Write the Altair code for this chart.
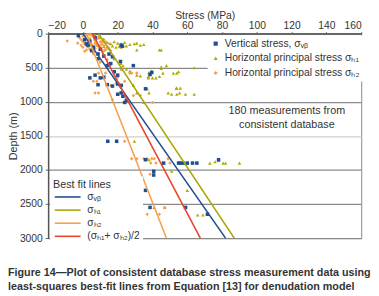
import altair as alt
import pandas as pd

# ---- data (stress MPa, depth m) ----
vb_stress = [-2.6, 4, 6, 8.7, 15, 12, 17, 21.6, 22, 22.7, 2, 5, 10, 7, 1, 3,
             8.7, 14, 15, 16, 7, 4, 10, 8.7, 14, 17, 20, 22, 20, 22, 23, 24, 29, 38.6, 39.6, 36, 12, 25, 18, 20,
             14.3, 19.4, 36, 46.4, 55, 56, 57.6, 60, 63, 65.5, 78, 40.7, 40.7, 36, 38.6, 59, 71.6]
vb_depth = [30, 110, 200, 300, 300, 330, 340, 410, 170, 185, 150, 250, 230, 60, 90, 170,
            370, 470, 455, 440, 610, 650, 650, 750, 750, 770, 740, 760, 890, 870, 920, 1010, 470, 600, 570, 810, 640, 980, 560, 610,
            1580, 1580, 1850, 1900, 1900, 1900, 1900, 1900, 1900, 1900, 1850, 2020, 2075, 2300, 2550, 2550, 2650]

h1_stress = [7, 9, 11, 12, 14, 16, 18, 20, 22, 24, 27, 29.6, 23, 21, 19, 17, 15, 13, 22, 25, 31, 44, 33, 35, 10, 8, 12,
             18, 21.7, 23, 31, 33, 37.6, 44, 48, 45, 49, 53.7, 55.6, 35, 31, 38, 31, 45, 45, 39.6, 38, 46, 52, 54, 64,
             37.6, 40, 42, 55, 37, 54, 56, 51, 54, 59, 64, 27, 25, 29,
             29.6, 38, 37, 58.5, 60, 73, 76, 78, 80.6, 90, 82, 51, 60, 41, 47, 66, 69]
h1_depth = [20, 40, 110, 80, 130, 150, 120, 140, 150, 130, 160, 150, 170, 190, 200, 180, 210, 230, 200, 180, 140, 240, 170, 160, 60, 170, 190,
            370, 440, 470, 610, 620, 650, 630, 470, 490, 870, 800, 870, 1010, 870, 870, 240, 240, 510, 550, 570, 580, 580, 580, 500,
            630, 650, 650, 560, 810, 800, 800, 890, 890, 890, 890, 550, 520, 760,
            1580, 1850, 1835, 1900, 1900, 1900, 1880, 1860, 1900, 1900, 1900, 2020, 2300, 2550, 2550, 2660, 2660]

h2_stress = [-9, -2, 0, 1, 2, 3, 4, 5, 6, -1, 0, 1, 2, 3, 4, 5, 6, 7, 8, 9, 10, 11, 12, 13, 14, 7, 8, 9, 10, 11, 12,
             3, 4, 5, 6, 2, 0, -1, -3, 15, 13, 6, 9, 16, 4, 1, 7, 10,
             9, 13, 6, 8, 27, 28, 31, 29, 33, 7, 9, 16, 19, 24, 40, 17, 10, 14, 20, 22, 12,
             24, 28, 31, 35, 37, 39.6, 41, 49, 39, 42, 46, 50, 38.6, 27.5, 19, 24, 47, 37, 44]
h2_depth = [110, 60, 40, 30, 20, 15, 10, 25, 45, 90, 120, 150, 180, 200, 230, 250, 270, 140, 160, 190, 210, 240, 260, 230, 200, 100, 80, 60, 120, 150, 180,
            100, 130, 160, 190, 240, 200, 170, 140, 150, 120, 300, 290, 250, 70, 260, 220, 170,
            580, 580, 700, 700, 580, 580, 580, 910, 910, 870, 870, 760, 730, 700, 1010, 970, 420, 380, 640, 530, 660,
            1580, 1835, 1835, 1835, 1835, 1835, 1835, 1835, 1900, 1900, 1900, 1900, 2065, 2300, 2550, 2550, 2550, 2650, 2650]

pt_names = ["Vertical stress, σᵥᵦ", "Horizontal principal stress σₕ₁", "Horizontal principal stress σₕ₂"]
pt_colors = ["#1f4f8f", "#b0ab00", "#f5a04e"]
pt_shapes = ["square", "triangle-up", "diamond"]

fit_names = ["σᵥᵦ", "σₕ₁", "σₕ₂", "(σₕ₁+ σₕ₂)/2"]
fit_colors = ["#1f4f8f", "#a8a400", "#f7a04b", "#e8452c"]
fit_depth = [0, 3000]
fit_top = [0, 9, 2, 5.5]
fit_bottom = [82, 87, 48, 67.5]

x_ticks = [-20, 0, 20, 40, 60, 80, 100, 120, 140, 160]
y_ticks = [0, 500, 1000, 1500, 2000, 2500, 3000]

note_text = "180 measurements from\nconsistent database"
caption_text = ("Figure 14\u2014Plot of consistent database stress measurement data using\n"
                "least-squares best-fit lines from Equation [13] for denudation model")

# ---- tables ----
rows = []
for s, d in zip(h1_stress, h1_depth):
    rows.append({"stress": s, "depth": d, "series": pt_names[1]})
for s, d in zip(h2_stress, h2_depth):
    rows.append({"stress": s, "depth": d, "series": pt_names[2]})
for s, d in zip(vb_stress, vb_depth):
    rows.append({"stress": s, "depth": d, "series": pt_names[0]})
pts = pd.DataFrame(rows)

lrows = []
for n, a, b in zip(fit_names, fit_top, fit_bottom):
    lrows.append({"fit": n, "stress": a, "depth": fit_depth[0]})
    lrows.append({"fit": n, "stress": b, "depth": fit_depth[1]})
lines_df = pd.DataFrame(lrows)

FONT = "Liberation Sans, Arial"

xscale = alt.Scale(domain=[-20, 160], nice=False, zero=False)
yscale = alt.Scale(domain=[0, 3000], reverse=True, nice=False)

xaxis = alt.Axis(orient="top", values=x_ticks, title="Stress (MPa)", labelOverlap=False,
                 grid=False, tickSize=2, tickColor="#666", domainColor="#666", domainWidth=2,
                 labelFontSize=10.5, labelColor="#333", labelPadding=1,
                 titleFontSize=10.5, titleFontWeight="normal", titleColor="#333", titlePadding=0,
                 labelFont=FONT, titleFont=FONT)
yaxis = alt.Axis(values=y_ticks, title="Depth (m)", format="d", labelOverlap=False,
                 grid=True,
                 gridColor={"condition": {"test": "datum.value === 1500", "value": "#cfcfcf"}, "value": "#8a8a8a"},
                 gridWidth=1.2,
                 tickSize=3, tickColor="#666", domainColor="#555", domainWidth=1.5,
                 labelFontSize=10.5, labelColor="#333", labelPadding=3,
                 titleFontSize=11, titleFontWeight="normal", titleColor="#333",
                 titleX=-35, titleBaseline="middle", titleAngle=270,
                 labelFont=FONT, titleFont=FONT)

pt_legend = alt.Legend(title=None, orient="none", legendX=163, legendY=2,
                       fillColor="white", padding=3, labelFontSize=10.5, labelColor="#333",
                       labelFont=FONT, symbolSize=18, rowPadding=4, labelOffset=4,
                       symbolStrokeWidth=0)

points = alt.Chart(pts).mark_point(filled=True, opacity=1, size=13, strokeWidth=0).encode(
    x=alt.X("stress:Q", scale=xscale, axis=xaxis),
    y=alt.Y("depth:Q", scale=yscale, axis=yaxis),
    fill=alt.Fill("series:N", scale=alt.Scale(domain=pt_names, range=pt_colors), legend=pt_legend),
    shape=alt.Shape("series:N", scale=alt.Scale(domain=pt_names, range=pt_shapes), legend=pt_legend),
)

line_legend = alt.Legend(title="Best fit lines", orient="none", legendX=2, legendY=146,
                         fillColor="white", padding=3, titleFontSize=11, titleFontWeight="normal",
                         titleColor="#333", titleFont=FONT, titlePadding=0,
                         labelFontSize=10.5, labelColor="#333", labelFont=FONT,
                         symbolType="M-2.2,0H2.2", symbolSize=144, symbolStrokeWidth=1.6,
                         symbolOffset=8, rowPadding=0.4, labelOffset=13)

lines = alt.Chart(lines_df).mark_line(strokeWidth=1.6).encode(
    x=alt.X("stress:Q", scale=xscale, axis=xaxis),
    y=alt.Y("depth:Q", scale=yscale, axis=yaxis),
    stroke=alt.Stroke("fit:N", scale=alt.Scale(domain=fit_names, range=fit_colors), legend=line_legend),
    order=alt.Order("depth:Q"),
)

note = alt.Chart(pd.DataFrame({"t": [note_text]})).mark_text(
    lineBreak="\n", align="center", baseline="middle", fontSize=11, lineHeight=14,
    color="#333", font=FONT
).encode(x=alt.value(244), y=alt.value(79), text="t:N")

caption = alt.Chart(pd.DataFrame({"t": [caption_text]})).mark_text(
    lineBreak="\n", align="left", baseline="middle", fontSize=11, lineHeight=14,
    fontWeight="bold", color="#333", font=FONT
).encode(x=alt.value(-41), y=alt.value(245), text="t:N")

chart = alt.layer(points, lines, note, caption).properties(
    width=320, height=209,
    autosize=alt.AutoSizeParams(type="none"),
    padding={"left": 41, "top": 23, "right": 10, "bottom": 54},
).configure_view(stroke="#8a8a8a", strokeWidth=1).configure_axis(labelOverlap=False)

chart.save("out.html", embed_options={"renderer": "svg", "actions": False})
